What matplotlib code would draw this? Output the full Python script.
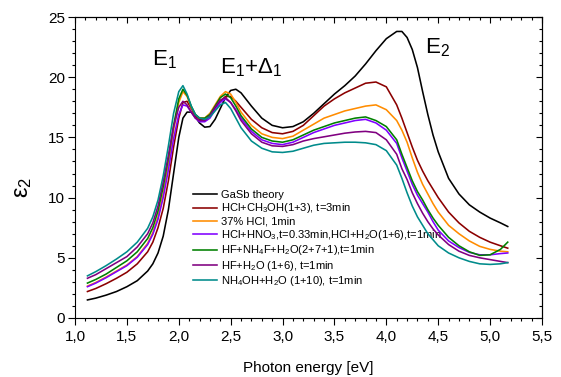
import matplotlib
matplotlib.use("Agg")
import matplotlib.pyplot as plt
from matplotlib.ticker import MultipleLocator, FuncFormatter

plt.rcParams['font.family'] = ['Liberation Sans', 'DejaVu Sans']
plt.rcParams['mathtext.fontset'] = 'custom'
plt.rcParams['mathtext.rm'] = 'Liberation Sans'
plt.rcParams['mathtext.it'] = 'Liberation Sans:italic'
plt.rcParams['mathtext.default'] = 'regular'

# photon energy grid (eV)
energy = [1.12, 1.2, 1.3, 1.4, 1.5, 1.6, 1.7, 1.75, 1.8, 1.85, 1.9, 1.95, 2.0, 2.04,
          2.08, 2.12, 2.16, 2.2, 2.25, 2.3, 2.35, 2.4, 2.45, 2.5, 2.55, 2.6, 2.7, 2.8,
          2.9, 3.0, 3.1, 3.2, 3.3, 3.4, 3.5, 3.6, 3.7, 3.8, 3.9, 4.0, 4.1, 4.15, 4.2,
          4.25, 4.3, 4.35, 4.4, 4.45, 4.5, 4.6, 4.7, 4.8, 4.9, 5.0, 5.1, 5.17]

eps_theory = [1.5, 1.65, 1.9, 2.2, 2.6, 3.1, 3.9, 4.5, 5.4, 6.8, 9.0, 12.0, 15.0, 16.6,
              17.1, 17.1, 16.7, 16.2, 15.85, 15.9, 16.5, 17.4, 18.3, 18.9, 19.0, 18.7, 17.6, 16.6,
              16.0, 15.8, 15.9, 16.3, 17.0, 17.8, 18.6, 19.3, 20.1, 21.1, 22.2, 23.2, 23.8, 23.8, 23.3,
              22.3, 20.8, 18.8, 16.9, 15.2, 13.8, 11.6, 10.3, 9.4, 8.8, 8.3, 7.9, 7.6]

eps_hcl_ch3oh = [2.2, 2.45, 2.85, 3.3, 3.8, 4.5, 5.5, 6.3, 7.5, 9.1, 11.4, 14.2, 16.6, 17.9,
                 18.0, 17.4, 16.8, 16.5, 16.5, 16.8, 17.4, 18.0, 18.4, 18.4, 18.0, 17.5, 16.5, 15.8,
                 15.4, 15.3, 15.5, 16.0, 16.8, 17.6, 18.2, 18.7, 19.1, 19.5, 19.6, 19.2, 17.7, 16.6, 15.4,
                 14.2, 13.1, 12.2, 11.4, 10.7, 10.0, 8.8, 7.9, 7.2, 6.7, 6.3, 6.0, 5.8]

eps_hcl37 = [2.65, 2.95, 3.4, 3.9, 4.4, 5.1, 6.2, 7.1, 8.4, 10.3, 12.8, 15.6, 17.9, 18.8,
             18.4, 17.5, 16.9, 16.6, 16.6, 17.0, 17.7, 18.4, 18.8, 18.6, 17.9, 17.1, 16.0, 15.3,
             15.0, 14.9, 15.1, 15.6, 16.1, 16.6, 16.9, 17.2, 17.4, 17.6, 17.7, 17.3, 16.4, 15.6, 14.6,
             13.3, 12.1, 11.1, 10.3, 9.5, 8.8, 7.7, 7.0, 6.4, 5.95, 5.7, 5.55, 5.5]

eps_hcl_hno3 = [2.6, 2.9, 3.35, 3.85, 4.35, 5.05, 6.1, 6.95, 8.2, 10.0, 12.3, 14.9, 16.9, 17.7,
                17.6, 17.1, 16.6, 16.3, 16.3, 16.6, 17.3, 17.9, 18.2, 17.9, 17.3, 16.6, 15.5, 14.8,
                14.5, 14.4, 14.6, 15.0, 15.4, 15.7, 16.0, 16.2, 16.4, 16.5, 16.2, 15.6, 14.5, 13.3, 12.2,
                11.1, 10.2, 9.5, 8.8, 8.0, 7.3, 6.4, 5.85, 5.45, 5.25, 5.25, 5.35, 5.4]

eps_hf_nh4f = [2.9, 3.2, 3.65, 4.2, 4.75, 5.5, 6.6, 7.5, 8.9, 10.9, 13.3, 16.0, 18.2, 19.0,
               18.5, 17.6, 16.9, 16.6, 16.6, 16.9, 17.6, 18.3, 18.6, 18.3, 17.6, 16.8, 15.7, 15.0,
               14.7, 14.6, 14.8, 15.2, 15.6, 15.9, 16.2, 16.4, 16.6, 16.7, 16.4, 15.9, 14.8, 13.6, 12.5,
               11.4, 10.5, 9.8, 9.0, 8.3, 7.7, 6.7, 6.0, 5.5, 5.2, 5.25, 5.7, 6.3]

eps_hf_h2o = [3.3, 3.6, 4.1, 4.6, 5.1, 5.9, 7.0, 7.9, 9.3, 11.3, 13.5, 15.9, 17.5, 18.0,
              17.7, 17.1, 16.6, 16.4, 16.4, 16.8, 17.5, 18.1, 18.3, 17.9, 17.2, 16.4, 15.3, 14.6,
              14.3, 14.25, 14.4, 14.7, 14.9, 15.05, 15.2, 15.35, 15.45, 15.5, 15.4, 14.8, 13.6, 12.4, 11.5,
              10.4, 9.5, 8.7, 8.0, 7.4, 6.9, 6.1, 5.55, 5.2, 5.0, 4.85, 4.7, 4.6]

eps_nh4oh = [3.5, 3.85, 4.35, 4.9, 5.5, 6.3, 7.45, 8.4, 9.8, 11.8, 14.3, 17.0, 18.8, 19.3,
             18.6, 17.6, 16.9, 16.6, 16.5, 16.7, 17.2, 17.7, 17.9, 17.4, 16.6, 15.8, 14.7, 14.1,
             13.8, 13.75, 13.85, 14.1, 14.35, 14.5, 14.55, 14.6, 14.6, 14.55, 14.4, 13.9, 12.7, 11.6, 10.4,
             9.3, 8.4, 7.7, 7.0, 6.5, 6.0, 5.4, 5.0, 4.7, 4.5, 4.45, 4.5, 4.6]

labels = [
    "GaSb theory",
    "HCl+CH$_3$OH(1+3), t=3min",
    "37% HCl, 1min",
    "HCl+HNO$_3$,t=0.33min,HCl+H$_2$O(1+6),t=1min",
    "HF+NH$_4$F+H$_2$O(2+7+1),t=1min",
    "HF+H$_2$O (1+6), t=1min",
    "NH$_4$OH+H$_2$O (1+10), t=1min",
]
series = [eps_theory, eps_hcl_ch3oh, eps_hcl37, eps_hcl_hno3, eps_hf_nh4f, eps_hf_h2o, eps_nh4oh]
colors = ["#000000", "#8b0000", "#ff8c00", "#8000ff", "#008000", "#800080", "#008b8b"]

fig = plt.figure(figsize=(5.61, 3.77), dpi=100)
ax = fig.add_axes([0.1337, 0.1565, 0.8324, 0.7984])

for y, c, lab in zip(series, colors, labels):
    ax.plot(energy, y, color=c, lw=1.15, label=lab)

ax.set_xlim(1.0, 5.5)
ax.set_ylim(0, 25)
ax.xaxis.set_major_locator(MultipleLocator(0.5))
ax.xaxis.set_minor_locator(MultipleLocator(0.1))
ax.yaxis.set_major_locator(MultipleLocator(5))
ax.yaxis.set_minor_locator(MultipleLocator(1))
ax.xaxis.set_major_formatter(FuncFormatter(lambda v, p: f"{v:.1f}".replace(".", ",")))
ax.tick_params(which='both', direction='out', labelsize=11, width=0.8)
ax.tick_params(which='major', length=5)
ax.tick_params(which='minor', length=2.5)
ax.tick_params(axis='x', pad=3.5)
ax.tick_params(axis='y', pad=2)
for s in ax.spines.values():
    s.set_linewidth(0.8)

# mirrored axes carry inward ticks without labels
top = ax.secondary_xaxis('top')
top.xaxis.set_major_locator(MultipleLocator(0.5))
top.xaxis.set_minor_locator(MultipleLocator(0.1))
top.tick_params(which='both', direction='in', labeltop=False, width=0.8)
top.tick_params(which='major', length=4)
top.tick_params(which='minor', length=2.5)
right = ax.secondary_yaxis('right')
right.yaxis.set_major_locator(MultipleLocator(5))
right.yaxis.set_minor_locator(MultipleLocator(1))
right.tick_params(which='both', direction='in', labelright=False, width=0.8)
right.tick_params(which='major', length=4)
right.tick_params(which='minor', length=2.5)

ax.set_xlabel("Photon energy [eV]", fontsize=11)
ax.xaxis.set_label_coords(0.5, -0.143)
ax.set_ylabel("$ε_2$", fontsize=17)
ax.yaxis.set_label_coords(-0.088, 0.435)

ax.text(1.742, 21.0, "$E_1$", fontsize=16, ha='left', va='baseline')
ax.text(2.397, 20.35, "$E_1$+$Δ_1$", fontsize=16, ha='left', va='baseline')
ax.text(4.372, 22.0, "$E_2$", fontsize=16, ha='left', va='baseline')

leg = ax.legend(loc='upper left', bbox_to_anchor=(0.2527, 0.425), frameon=False,
                fontsize=8, handlelength=2.16, handletextpad=0.36, labelspacing=0.12,
                borderpad=0, borderaxespad=0)
leg.set_zorder(1)

fig.savefig("out.png", dpi=100)
